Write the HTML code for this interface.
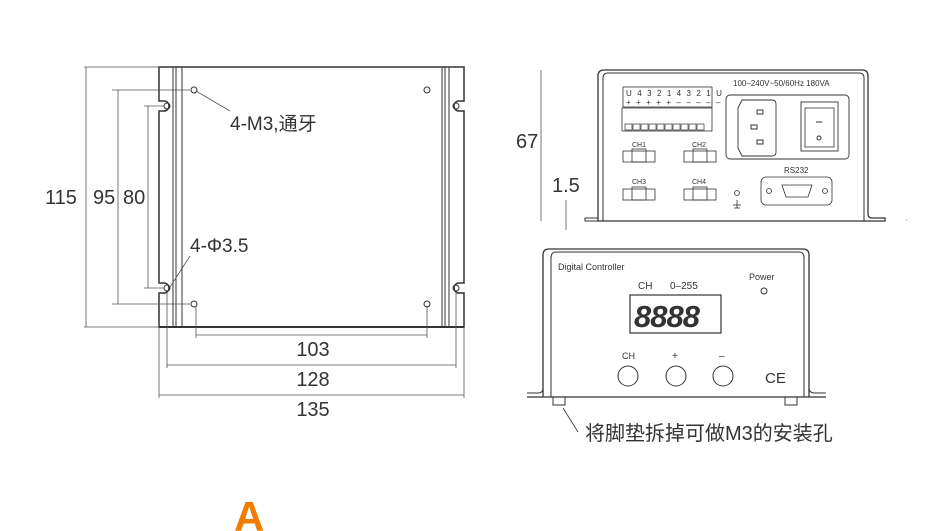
<!DOCTYPE html>
<html><head><meta charset="utf-8"><style>
html,body{margin:0;padding:0;background:#fff;}
svg{display:block;}
text{font-family:"Liberation Sans","Noto Sans CJK SC",sans-serif;fill:#333;}
</style></head><body>
<svg width="947" height="531" viewBox="0 0 947 531" xmlns="http://www.w3.org/2000/svg">
<g fill="none" stroke="#333" stroke-width="1">
<path d="M159,67 H464 V101 H459 A5,5 0 0 0 459,111 H464 V283 H459 A5,5 0 0 0 459,293 H464 V327 H159 V293 H164 A5,5 0 0 0 164,283 H159 V111 H164 A5,5 0 0 0 164,101 H159 Z" stroke-width="1.5"/>
<line x1="173" y1="67" x2="173" y2="327"/><line x1="176" y1="67" x2="176" y2="327"/><line x1="182" y1="67" x2="182" y2="327"/>
<line x1="442" y1="67" x2="442" y2="327"/><line x1="445" y1="67" x2="445" y2="327"/><line x1="449" y1="67" x2="449" y2="327"/>
<line x1="159" y1="327" x2="464" y2="327" stroke-width="2"/>
<circle cx="194" cy="90" r="3"/><circle cx="427" cy="90" r="3"/><circle cx="194" cy="304" r="3"/><circle cx="427" cy="304" r="3"/>
<circle cx="167" cy="106" r="3"/><circle cx="456" cy="106" r="3"/><circle cx="167" cy="288" r="3"/><circle cx="456" cy="288" r="3"/>
<g stroke="#555" stroke-width="0.8">
<line x1="86" y1="67" x2="86" y2="327"/><line x1="84" y1="327" x2="159" y2="327"/><line x1="84" y1="67" x2="159" y2="67"/>
<line x1="118" y1="90" x2="118" y2="304"/><line x1="112" y1="90" x2="190" y2="90"/><line x1="112" y1="304" x2="190" y2="304"/>
<line x1="148" y1="106" x2="148" y2="288"/><line x1="144" y1="106" x2="164" y2="106"/><line x1="144" y1="288" x2="164" y2="288"/>
<line x1="196" y1="335" x2="427" y2="335"/><line x1="196" y1="306" x2="196" y2="338"/><line x1="427" y1="306" x2="427" y2="338"/>
<line x1="167" y1="365" x2="456" y2="365"/><line x1="167" y1="292" x2="167" y2="368"/><line x1="456" y1="292" x2="456" y2="368"/>
<line x1="159" y1="395" x2="464" y2="395"/><line x1="159" y1="327" x2="159" y2="398"/><line x1="464" y1="327" x2="464" y2="398"/>
<line x1="196" y1="91" x2="230" y2="111"/><line x1="170" y1="287" x2="190" y2="256"/>
</g>
<path d="M598,221 V76 Q598,70 604,70 H862 Q868,70 868,76 V214 Q868,218 872,218 H885 V221 Z" stroke-width="1.3"/>
<path d="M603,221 V78 Q603,73 608,73 H859 Q864,73 864,78 V221"/>
<path d="M598,218 H585 V221 H598"/>
<line x1="541" y1="70" x2="541" y2="221" stroke="#555" stroke-width="0.8"/>
<line x1="566" y1="200" x2="566" y2="230" stroke="#555" stroke-width="0.8"/>
<rect x="623" y="87" width="89" height="20" stroke-width="0.8"/>
<rect x="622" y="108" width="90" height="23" stroke-width="0.8"/>
<g stroke-width="0.7"><rect x="625" y="124" width="7" height="6"/><rect x="633" y="124" width="7" height="6"/><rect x="641" y="124" width="7" height="6"/><rect x="649" y="124" width="7" height="6"/><rect x="657" y="124" width="7" height="6"/><rect x="665" y="124" width="7" height="6"/><rect x="673" y="124" width="7" height="6"/><rect x="681" y="124" width="7" height="6"/><rect x="689" y="124" width="7" height="6"/><rect x="697" y="124" width="7" height="6"/></g>
<rect x="726" y="95" width="123" height="64" rx="4" stroke-width="0.9"/>
<path d="M742,100 H772 Q776,100 776,104 V152 Q776,156 772,156 H742 L738,148 V108 Z" stroke-width="0.9"/>
<rect x="757" y="110" width="6" height="4"/><rect x="751" y="125" width="6" height="4"/><rect x="757" y="140" width="6" height="4"/>
<rect x="801" y="102" width="37" height="49" stroke-width="0.9"/><rect x="805" y="108" width="29" height="39" stroke-width="0.8"/>
<line x1="816" y1="122" x2="822" y2="122"/><circle cx="819" cy="138" r="2"/>
<g stroke-width="0.8">
<rect x="623" y="151" width="32" height="11"/><rect x="632" y="149" width="14" height="13"/>
<rect x="684" y="151" width="32" height="11"/><rect x="693" y="149" width="14" height="13"/>
<rect x="623" y="189" width="32" height="11"/><rect x="632" y="187" width="14" height="13"/>
<rect x="684" y="189" width="32" height="11"/><rect x="693" y="187" width="14" height="13"/>
<circle cx="737" cy="193" r="2.5"/><line x1="737" y1="200" x2="737" y2="208"/><line x1="733" y1="205" x2="741" y2="205"/><line x1="734" y1="208" x2="740" y2="208"/>
<rect x="761" y="177" width="71" height="28" rx="5"/>
<path d="M782,185 H812 L808,197 H786 Z"/>
<circle cx="769" cy="191" r="2.5"/><circle cx="825" cy="191" r="2.5"/>
</g>
<path d="M543,397 V255 Q543,249 549,249 H803 Q809,249 809,255 V397" stroke-width="1.3"/>
<path d="M551,397 V258 Q551,252 556,252 H799 Q804,252 804,258 V397"/>
<line x1="527" y1="397" x2="826" y2="397" stroke-width="1.3"/>
<path d="M527,393 H538 Q543,393 543,388"/><path d="M826,393 H815 Q809,393 809,388"/>
<path d="M553,397 V405 H565 V397"/><path d="M785,397 V405 H797 V397"/>
<circle cx="764" cy="291" r="3"/>
<rect x="630" y="295" width="91" height="38" stroke-width="1.2"/>
<circle cx="628" cy="376" r="10"/><circle cx="676" cy="376" r="10"/><circle cx="723" cy="376" r="10"/>
<line x1="563" y1="408" x2="578" y2="432" stroke-width="0.8"/>
</g>
<g font-size="20">
<text x="45" y="204">115</text><text x="93" y="204">95</text><text x="123" y="204">80</text>
<text x="313" y="356" text-anchor="middle">103</text>
<text x="313" y="386" text-anchor="middle">128</text>
<text x="313" y="416" text-anchor="middle">135</text>
<text x="516" y="148">67</text><text x="552" y="192">1.5</text>
</g>
<text x="230" y="130" font-size="19">4-M3,通牙</text>
<text x="190" y="252" font-size="19">4-Φ3.5</text>
<g font-size="8" font-family="Liberation Sans Narrow, Liberation Sans, sans-serif">
<text x="626" y="96" letter-spacing="1.6">U 4 3 2 1 4 3 2 1 U</text>
<text x="626" y="105" letter-spacing="1.6">+ + + + + – – – – –</text>
<text x="733" y="86">100–240V~50/60Hz 180VA</text>
<text x="632" y="147" font-size="7">CH1</text><text x="692" y="147" font-size="7">CH2</text>
<text x="632" y="184" font-size="7">CH3</text><text x="692" y="184" font-size="7">CH4</text>
<text x="784" y="173">RS232</text>
</g>
<text x="558" y="270" font-size="9">Digital Controller</text>
<text x="749" y="280" font-size="9">Power</text>
<text x="638" y="289" font-size="10">CH</text><text x="670" y="289" font-size="10">0–255</text>
<text x="634" y="327" font-size="31" font-style="italic" font-weight="bold" letter-spacing="-1">8888</text>
<text x="622" y="359" font-size="9">CH</text><text x="672" y="359" font-size="10">+</text><text x="719" y="359" font-size="10">–</text>
<text x="765" y="383" font-size="15">CE</text>
<text x="585" y="440" font-size="20">将脚垫拆掉可做M3的安装孔</text>
<text x="906" y="220" font-size="6">,</text>
<text x="234" y="531" font-size="42" font-weight="bold" style="fill:#f07c00">A</text>
</svg>
</body></html>
